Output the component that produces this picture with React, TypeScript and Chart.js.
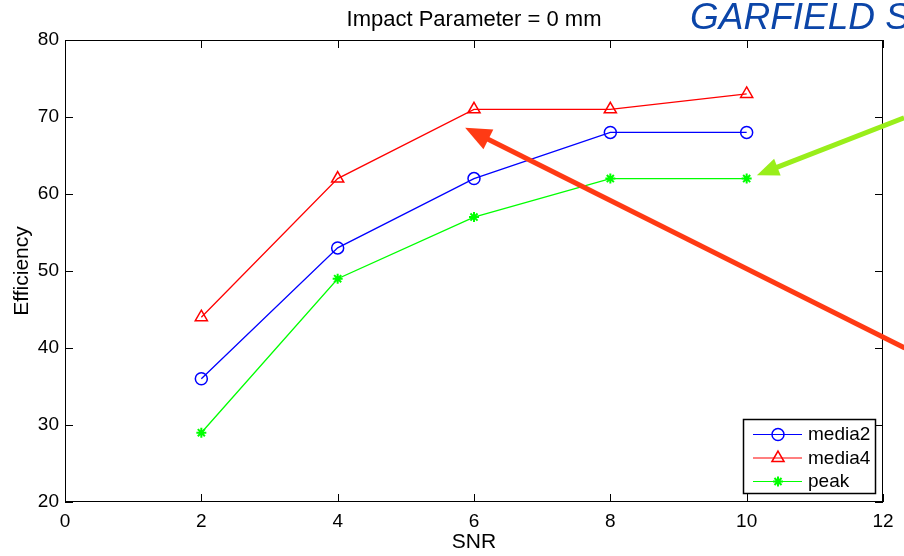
import React, { useEffect, useRef } from "react";
import { Chart, registerables } from "chart.js";

Chart.register(...registerables);

const snr = [2, 4, 6, 8, 10];
const media2 = [36, 53, 62, 68, 68];
const media4 = [44, 62, 71, 71, 73];
const peak = [29, 49, 57, 62, 62];
const xTicks = [0, 2, 4, 6, 8, 10, 12];
const yTicks = [20, 30, 40, 50, 60, 70, 80];
const seriesNames = ["media2", "media4", "peak"];
const titleText = "Impact Parameter = 0 mm";
const bannerText = "GARFIELD S";
const xLabel = "SNR";
const yLabel = "Efficiency";
// arrows in data coordinates: [tailX, tailY, tipX, tipY]
const redArrow = [12.32, 40.0, 5.87, 68.6];
const greenArrow = [12.31, 69.9, 10.15, 62.45];

const FONT = "'Liberation Sans', Arial, Helvetica, sans-serif";

function drawArrow(ctx: CanvasRenderingContext2D, x1: number, y1: number, x2: number, y2: number, color: string, headLen: number, headHalf: number, width: number) {
  const ang = Math.atan2(y2 - y1, x2 - x1);
  const bx = x2 - headLen * Math.cos(ang);
  const by = y2 - headLen * Math.sin(ang);
  ctx.save();
  ctx.strokeStyle = color;
  ctx.fillStyle = color;
  ctx.lineWidth = width;
  ctx.lineCap = "butt";
  ctx.beginPath();
  ctx.moveTo(x1, y1);
  ctx.lineTo(bx + 2 * Math.cos(ang), by + 2 * Math.sin(ang));
  ctx.stroke();
  ctx.beginPath();
  ctx.moveTo(x2, y2);
  ctx.lineTo(bx + headHalf * Math.sin(ang), by - headHalf * Math.cos(ang));
  ctx.lineTo(bx - headHalf * Math.sin(ang), by + headHalf * Math.cos(ang));
  ctx.closePath();
  ctx.fill();
  ctx.restore();
}

function drawPointLocal(ctx: CanvasRenderingContext2D, style: string, r: number, x: number, y: number, color: string, w: number) {
  ctx.save();
  ctx.strokeStyle = color;
  ctx.lineWidth = w;
  ctx.beginPath();
  if (style === "circle") {
    ctx.arc(x, y, r, 0, Math.PI * 2);
  } else if (style === "triangle") {
    ctx.moveTo(x, y - r);
    ctx.lineTo(x + r * 0.866, y + r * 0.5);
    ctx.lineTo(x - r * 0.866, y + r * 0.5);
    ctx.closePath();
  } else {
    for (let k = 0; k < 4; k++) {
      const a = (k * Math.PI) / 4;
      ctx.moveTo(x + r * Math.cos(a), y + r * Math.sin(a));
      ctx.lineTo(x - r * Math.cos(a), y - r * Math.sin(a));
    }
  }
  ctx.stroke();
  ctx.restore();
}

const decorPlugin = {
  id: "decor",
  afterDraw(chart: any) {
    const ctx: CanvasRenderingContext2D = chart.ctx;
    const { left, right, top, bottom } = chart.chartArea;
    const xs = chart.scales.x;
    const ys = chart.scales.y;
    ctx.save();
    // box
    ctx.strokeStyle = "#000";
    ctx.lineWidth = 1;
    ctx.strokeRect(left + 0.5, top + 0.5, right - left - 1, bottom - top - 1);
    // inside ticks
    const tl = 8;
    ctx.beginPath();
    xTicks.forEach((t) => {
      const px = Math.round(xs.getPixelForValue(t)) + 0.5;
      ctx.moveTo(px, bottom);
      ctx.lineTo(px, bottom - tl);
      ctx.moveTo(px, top);
      ctx.lineTo(px, top + tl);
    });
    yTicks.forEach((t) => {
      const py = Math.round(ys.getPixelForValue(t)) + 0.5;
      ctx.moveTo(left, py);
      ctx.lineTo(left + tl, py);
      ctx.moveTo(right, py);
      ctx.lineTo(right - tl, py);
    });
    ctx.stroke();

    // title
    ctx.fillStyle = "#000";
    ctx.font = `22px ${FONT}`;
    ctx.textAlign = "center";
    ctx.textBaseline = "alphabetic";
    ctx.fillText(titleText, (left + right) / 2, 26);
    // axis labels
    ctx.font = `21px ${FONT}`;
    ctx.fillText(xLabel, (left + right) / 2, 548);
    ctx.save();
    ctx.translate(28, (top + bottom) / 2);
    ctx.rotate(-Math.PI / 2);
    ctx.fillText(yLabel, 0, 0);
    ctx.restore();

    // banner
    ctx.font = `italic 37px ${FONT}`;
    ctx.fillStyle = "#0b45a8";
    ctx.textAlign = "left";
    ctx.fillText(bannerText, 690, 29);

    // legend
    const lx0 = right - 140;
    const ly0 = bottom - 83;
    const lw = 132;
    const lh = 74;
    ctx.fillStyle = "#fff";
    ctx.fillRect(lx0, ly0, lw, lh);
    ctx.strokeStyle = "#000";
    ctx.lineWidth = 1.5;
    ctx.strokeRect(lx0 + 0.5, ly0 + 0.5, lw, lh);
    chart.data.datasets.forEach((ds: any, i: number) => {
      const yy = ly0 + 15 + i * 23.5;
      ctx.strokeStyle = ds.borderColor;
      ctx.lineWidth = 1.2;
      ctx.beginPath();
      ctx.moveTo(lx0 + 10, yy + 0.5);
      ctx.lineTo(lx0 + 59, yy + 0.5);
      ctx.stroke();
      drawPointLocal(ctx, ds.pointStyle, ds.pointRadius, lx0 + 35, yy + 0.5, ds.borderColor, ds.pointBorderWidth || 1);
      ctx.fillStyle = "#000";
      ctx.font = `19px ${FONT}`;
      ctx.textAlign = "left";
      ctx.textBaseline = "middle";
      ctx.fillText(ds.label, lx0 + 65, yy + 1);
    });

    // arrows (annotations)
    drawArrow(ctx, xs.getPixelForValue(redArrow[0]), ys.getPixelForValue(redArrow[1]), xs.getPixelForValue(redArrow[2]), ys.getPixelForValue(redArrow[3]), "#ff3a14", 26, 11, 5);
    drawArrow(ctx, xs.getPixelForValue(greenArrow[0]), ys.getPixelForValue(greenArrow[1]), xs.getPixelForValue(greenArrow[2]), ys.getPixelForValue(greenArrow[3]), "#99ee1a", 22, 9, 5);
    ctx.restore();
  },
};

export default function App() {
  const ref = useRef<HTMLCanvasElement>(null);
  useEffect(() => {
    if (!ref.current) return;
    const mk = (vals: number[]) => snr.map((x, i) => ({ x, y: vals[i] }));
    const chart = new Chart(ref.current, {
      type: "line",
      data: {
        datasets: [
          { label: seriesNames[0], data: mk(media2), borderColor: "#0000ff", backgroundColor: "rgba(0,0,0,0)", borderWidth: 1.3, pointStyle: "circle", pointRadius: 6, pointBorderWidth: 1.5, pointBackgroundColor: "rgba(0,0,0,0)", pointBorderColor: "#0000ff", tension: 0 },
          { label: seriesNames[1], data: mk(media4), borderColor: "#ff0000", backgroundColor: "rgba(0,0,0,0)", borderWidth: 1.3, pointStyle: "triangle", pointRadius: 7, pointBorderWidth: 1.5, pointBackgroundColor: "rgba(0,0,0,0)", pointBorderColor: "#ff0000", tension: 0 },
          { label: seriesNames[2], data: mk(peak), borderColor: "#00ff00", backgroundColor: "rgba(0,0,0,0)", borderWidth: 1.3, pointStyle: "star", pointRadius: 5, pointBorderWidth: 2, pointBackgroundColor: "#00ff00", pointBorderColor: "#00ff00", tension: 0 },
        ] as any,
      },
      options: {
        responsive: false,
        animation: false,
        layout: { padding: { left: 0, top: 40, right: 21, bottom: 0 } },
        plugins: { legend: { display: false }, title: { display: false }, tooltip: { enabled: false } },
        scales: {
          x: {
            type: "linear",
            min: 0,
            max: 12,
            grid: { display: false, drawTicks: false },
            border: { display: false },
            ticks: { stepSize: 2, color: "#000", font: { family: FONT, size: 19 }, padding: 8, maxRotation: 0 },
            afterFit: (s: any) => { s.height = 54; },
          },
          y: {
            min: 20,
            max: 80,
            grid: { display: false, drawTicks: false },
            border: { display: false },
            ticks: { stepSize: 10, color: "#000", font: { family: FONT, size: 19 }, padding: 6 },
            afterFit: (s: any) => { s.width = 65; },
          },
        },
      } as any,
      plugins: [decorPlugin],
    });
    return () => chart.destroy();
  }, []);
  return (
    <div style={{ position: "absolute", left: 0, top: 0, width: 904, height: 556, background: "#fff" }}>
      <canvas ref={ref} width={904} height={556} style={{ display: "block" }} />
    </div>
  );
}
